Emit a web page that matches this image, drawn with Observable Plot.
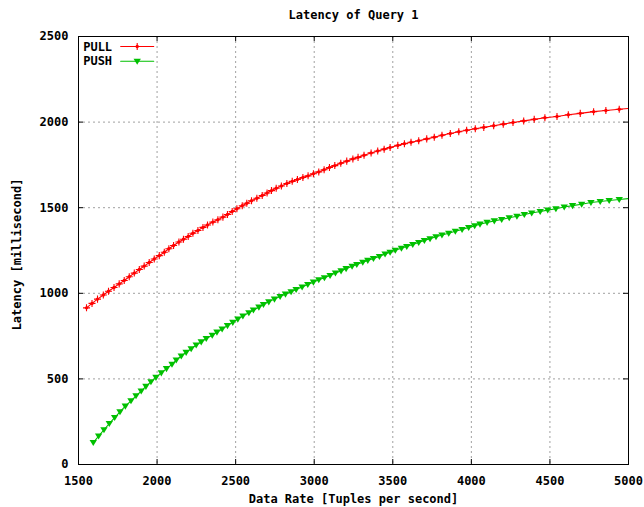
<!DOCTYPE html>
<html><head><meta charset="utf-8">
<script src="https://cdn.jsdelivr.net/npm/d3@7"></script>
<script src="https://cdn.jsdelivr.net/npm/@observablehq/plot@0.6"></script>
<style>body{margin:0;background:#fff}</style>
</head><body><div id="chart"></div>
<script>
const chartTitle = "Latency of Query 1";
const xLabel = "Data Rate [Tuples per second]";
const yLabel = "Latency [millisecond]";
const seriesNames = ["PULL", "PUSH"];
const seriesColors = ["#ff0000", "#00c000"];
const xTicks = [1500, 2000, 2500, 3000, 3500, 4000, 4500, 5000];
const yTicks = [0, 500, 1000, 1500, 2000, 2500];

const pullRate = [1551,1586,1621,1658,1691,1726,1759,1791,
  1823,1855,1887,1918,1950,1982,2014,2046,
  2075,2105,2139,2168,2198,2228,2260,2292,2321,2355,2387,2419,2448,2478,2508,2542,2571,2601,2635,2669,
  2700,2728,2758,2791,2826,2860,2893,2928,2961,2995,3029,3063,3097,3131,3169,3207,3246,3279,3317,
  3362,3404,3445,3483,3532,3574,3616,3665,3716,3764,3813,3866,3920,3970,4025,
  4079,4142,4203,4265,4333,4400,4468,4545,4617,4693,4778,4856,4941,5026];
const pullLatency = [915,941,966,990,1012,1034,1055,1075,
  1097,1118,1139,1159,1180,1200,1220,1240,
  1260,1279,1300,1316,1332,1351,1367,1385,1399,1416,1430,1445,1460,1478,1494,1511,1526,1541,1555,1571,
  1586,1600,1614,1627,1641,1654,1665,1676,1686,1698,1709,1722,1735,1746,1760,1772,1785,1794,1806,
  1820,1831,1842,1852,1864,1874,1882,1891,1902,1912,1923,1933,1944,1952,1961,
  1969,1979,1988,1998,2007,2016,2025,2033,2043,2051,2061,2068,2075,2082];

const pushRate = [1594,1628,1662,1696,1730,1764,1798,1834,1866,1899,1929,1961,1993,2027,2060,2095,
  2122,2154,2185,2217,2249,2281,2313,2351,2381,2414,2448,2482,2514,2546,2584,2613,2648,2677,
  2711,2747,2783,2817,2853,2885,2923,2959,2995,3029,3065,3101,3135,3171,3203,3241,3271,3309,
  3341,3377,3415,3451,3483,3516,3555,3589,3627,3665,3701,3737,3775,3813,3856,3898,3941,3983,4021,4055,
  4100,4146,4193,4241,4290,4337,4384,4438,4486,4538,4591,4644,4702,4761,4820,4877,4941,5026];
const pushLatency = [128,166,203,239,274,308,341,372,401,429,456,483,509,535,560,585,
  610,634,655,676,698,716,736,755,773,791,811,830,849,867,886,902,919,934,
  950,966,981,995,1009,1022,1037,1051,1065,1079,1091,1104,1118,1131,1144,1158,1168,1181,
  1192,1203,1215,1229,1240,1251,1263,1273,1285,1297,1308,1319,1330,1340,1351,1362,1373,1384,1394,1404,
  1414,1423,1431,1441,1450,1460,1469,1478,1486,1494,1504,1512,1520,1530,1536,1542,1548,1556];

const W = 644, H = 507, mL = 78, mR = 16, mT = 36, mB = 43;
const innerW = W - mL - mR, innerH = H - mT - mB;
const tickLen = 5;
const gridColor = "#a0a0a0";

const pull = pullRate.map((x, i) => ({x, y: pullLatency[i]}));
const push = pushRate.map((x, i) => ({x, y: pushLatency[i]}));

const downTriangle = {
  draw(ctx, size) {
    const r = Math.sqrt(size / Math.PI);
    ctx.moveTo(-1.15 * r, -0.8 * r);
    ctx.lineTo(1.15 * r, -0.8 * r);
    ctx.lineTo(0, 1.1 * r);
    ctx.closePath();
  }
};
const lineShape = { draw(ctx, l) { ctx.moveTo(0, 0); ctx.lineTo(0, -l); } };

const inner = xTicks.slice(1, -1);
const innerY = yTicks.slice(1, -1);
const txt = {fill: "black", lineAnchor: "middle"};

const chart = Plot.plot({
  width: W, height: H,
  marginLeft: mL, marginRight: mR, marginTop: mT, marginBottom: mB,
  style: {fontFamily: "'DejaVu Sans Mono', monospace", fontSize: "12px", fontWeight: "bold", color: "black", background: "white"},
  x: {domain: [1500, 5000], axis: null},
  y: {domain: [0, 2500], axis: null},
  marks: [
    Plot.gridX(inner, {stroke: gridColor, strokeOpacity: 1, strokeDasharray: "2,3"}),
    Plot.gridY(innerY, {stroke: gridColor, strokeOpacity: 1, strokeDasharray: "2,3"}),
    Plot.tickX(inner, {x: d => d, insetTop: innerH - tickLen, stroke: "black"}),
    Plot.tickX(inner, {x: d => d, insetBottom: innerH - tickLen, stroke: "black"}),
    Plot.tickY(innerY, {y: d => d, insetLeft: innerW - tickLen, stroke: "black"}),
    Plot.tickY(innerY, {y: d => d, insetRight: innerW - tickLen, stroke: "black"}),
    Plot.axisX({ticks: xTicks, tickSize: 0, tickPadding: 12, label: null, tickFormat: d => String(d)}),
    Plot.axisY({ticks: yTicks, tickSize: 0, tickPadding: 10, label: null, tickFormat: d => String(d)}),
    Plot.line(pull, {x: "x", y: "y", stroke: seriesColors[0], strokeWidth: 1.1, clip: true}),
    Plot.dot(pull, {x: "x", y: "y", r: 1.7, fill: seriesColors[0], clip: true}),
    Plot.dot(pull, {x: "x", y: "y", r: 2.4, symbol: "plus", stroke: seriesColors[0], strokeWidth: 1.1, clip: true}),
    Plot.line(push, {x: "x", y: "y", stroke: seriesColors[1], strokeWidth: 1.1, clip: true}),
    Plot.dot(push, {x: "x", y: "y", r: 3.2, symbol: downTriangle, fill: seriesColors[1], clip: true}),
    Plot.frame({stroke: "black"}),
    // legend
    Plot.text([seriesNames[0]], {...txt, frameAnchor: "top-left", dx: 4.7, dy: 11, textAnchor: "start"}),
    Plot.text([seriesNames[1]], {...txt, frameAnchor: "top-left", dx: 4.7, dy: 25, textAnchor: "start"}),
    Plot.vector([0], {frameAnchor: "top-left", dx: 58.7, dy: 10, length: 33, rotate: 90, anchor: "middle", shape: lineShape, stroke: seriesColors[0], strokeWidth: 1.1}),
    Plot.vector([0], {frameAnchor: "top-left", dx: 58.7, dy: 24.7, length: 33, rotate: 90, anchor: "middle", shape: lineShape, stroke: seriesColors[1], strokeWidth: 1.1}),
    Plot.dot([0], {frameAnchor: "top-left", dx: 58.7, dy: 10, r: 1.7, fill: seriesColors[0]}),
    Plot.dot([0], {frameAnchor: "top-left", dx: 58.7, dy: 10, r: 2.4, symbol: "plus", stroke: seriesColors[0], strokeWidth: 1.1}),
    Plot.dot([0], {frameAnchor: "top-left", dx: 58.7, dy: 24.7, r: 3.2, symbol: downTriangle, fill: seriesColors[1]}),
    // titles
    Plot.text([chartTitle], {...txt, frameAnchor: "top", dy: -21}),
    Plot.text([xLabel], {...txt, frameAnchor: "bottom", dy: 35}),
    Plot.text([yLabel], {...txt, frameAnchor: "left", textAnchor: "middle", dx: -61, dy: 4, rotate: -90})
  ]
});
document.getElementById("chart").appendChild(chart);
</script>
</body></html>
